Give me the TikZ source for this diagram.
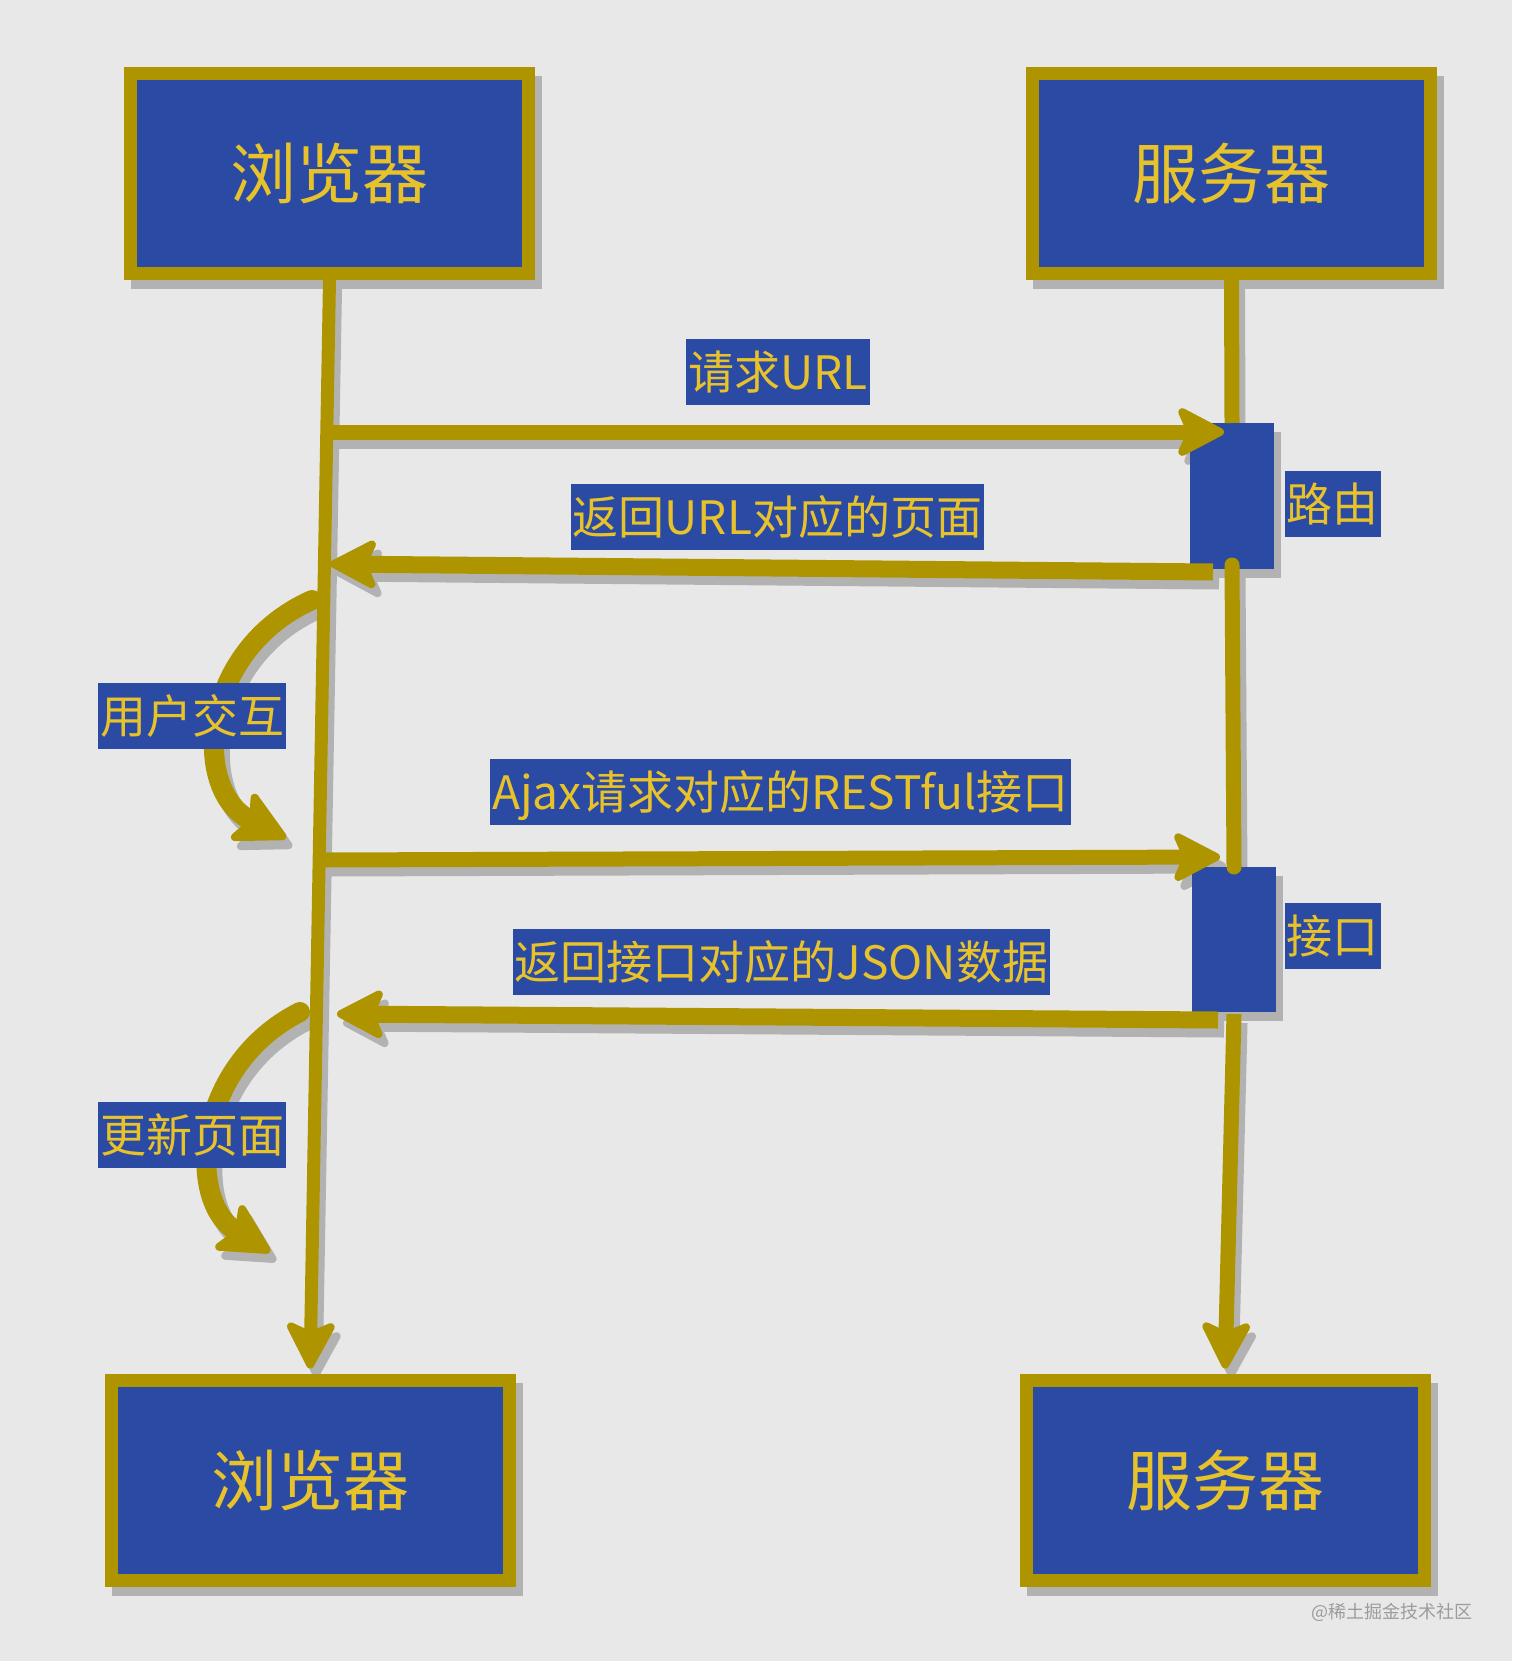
\documentclass[tikz,border=0pt]{standalone}
\usepackage{fontspec}
\setmainfont{Noto Sans CJK SC}
\usetikzlibrary{arrows.meta,calc}
\definecolor{bgc}{HTML}{E8E8E8}
\definecolor{boxblue}{HTML}{2A4AA3}
\definecolor{gold}{HTML}{AE9500}
\definecolor{txty}{HTML}{E8C22A}
\definecolor{shc}{HTML}{B2B2B2}
\definecolor{wmc}{HTML}{9C9C9C}
\pgfdeclarelayer{bglayer}
\pgfdeclarelayer{shadowlayer}
\pgfsetlayers{bglayer,shadowlayer,main}
\tikzset{
  bigbox/.style={draw=gold, line width=13pt, fill=boxblue, text=txty,
    minimum width=398pt, minimum height=200pt, inner sep=0pt,
    font=\fontsize{66}{70}\selectfont, text height=55pt, text depth=5pt},
  actbox/.style={fill=boxblue, minimum width=84pt, minimum height=146pt,
    inner sep=0pt, outer sep=0pt},
  lbl/.style={fill=boxblue, text=txty, inner xsep=2pt, inner ysep=0pt,
    minimum height=66pt, font=\fontsize{46}{50}\selectfont,
    text height=38pt, text depth=3pt},
  bigtip/.style={-{Stealth[length=54pt 0 0,width=56pt 0 0,inset=12pt 0,round,line width=8pt 0 0]}},
  msg/.style={draw=gold, line width=15pt, bigtip},
  life/.style={draw=gold, line width=13pt},
  curv/.style={draw=gold, line width=20pt, line cap=round,
    -{Stealth[length=58pt 0 0,width=60pt 0 0,inset=12pt 0,round,line width=8pt 0 0]}},
}
\newcommand\shdraw[2]{%
  \begin{pgfonlayer}{shadowlayer}
    \begin{scope}[transform canvas={shift={(6pt,-9pt)}}]
      \draw[#1,draw=shc] #2;
    \end{scope}
  \end{pgfonlayer}
  \draw[#1] #2;}
\begin{document}
\begin{tikzpicture}[x=1pt,y=-1pt]
\begin{pgfonlayer}{bglayer}
  \fill[bgc] (0,0) rectangle (1512,1661);
\end{pgfonlayer}
\useasboundingbox (0,0) rectangle (1512,1661);

% main boxes
\node[bigbox] (b1) at (329.5,173.5) {浏览器};
\node[bigbox] (s1) at (1231.5,173.5) {服务器};
\node[bigbox] (b2) at (310,1480) {浏览器};
\node[bigbox] (s2) at (1225,1480) {服务器};
% activation boxes
\node[actbox] (r) at (1232,496) {};
\node[actbox, minimum height=145pt] (i) at (1234,939.5) {};

\begin{pgfonlayer}{shadowlayer}
  \foreach \n in {b1,s1,b2,s2,r,i}{
    \fill[shc] ($(\n.north west)+(7,9)$) rectangle ($(\n.south east)+(7,9)$);
  }
\end{pgfonlayer}

% life lines
\shdraw{life, bigtip, shorten >=5pt}{(b1.south) -- (b2.north)}
\shdraw{life, line width=15pt}{(s1.south) -- (r.north)}
\shdraw{life, line width=15pt, line cap=round}{([yshift=4pt]r.south) -- (i.north)}
\shdraw{life, line width=15pt, bigtip, shorten >=5pt}{([yshift=-2pt]i.south) -- (s2.north)}

% message arrows
\coordinate (m1s) at (328,432);
\coordinate (m1e) at (1224,432);
\coordinate (m2s) at (1213,572);
\coordinate (m2e) at (330,564);
\coordinate (m3s) at (321,860);
\coordinate (m3e) at (1220,857);
\coordinate (m4s) at (1218,1020);
\coordinate (m4e) at (337,1014);
\shdraw{msg}{(m1s) -- (m1e)}
\shdraw{msg, line width=17pt}{(m2s) -- (m2e)}
\shdraw{msg}{(m3s) -- (m3e)}
\shdraw{msg, line width=17pt}{(m4s) -- (m4e)}

% curved arrows
\coordinate (c1s) at (312,600);
\coordinate (c1e) at (286,838);
\coordinate (c2s) at (300,1012);
\coordinate (c2e) at (270,1252);
\shdraw{curv}{(c1s) .. controls (200,650) and (190,790) .. (c1e)}
\shdraw{curv}{(c2s) .. controls (195,1065) and (185,1200) .. (c2e)}

% labels
\node[lbl] (l1) at (778,371.5) {请求URL};
\node[lbl] (l2) at (777.5,516.5) {返回URL对应的页面};
\node[lbl] (l3) at (780.5,792) {Ajax请求对应的RESTful接口};
\node[lbl] (l4) at (781.5,961.5) {返回接口对应的JSON数据};
\node[lbl] (l5) at (1332.5,503.5) {路由};
\node[lbl] (l6) at (1332.5,935.5) {接口};
\node[lbl] (l7) at (192,716) {用户交互};
\node[lbl] (l8) at (192,1134.5) {更新页面};

\node[text=wmc, font=\fontsize{18}{20}\selectfont, inner sep=0pt] (wm) at (1392,1612) {@稀土掘金技术社区};
\end{tikzpicture}
\end{document}
